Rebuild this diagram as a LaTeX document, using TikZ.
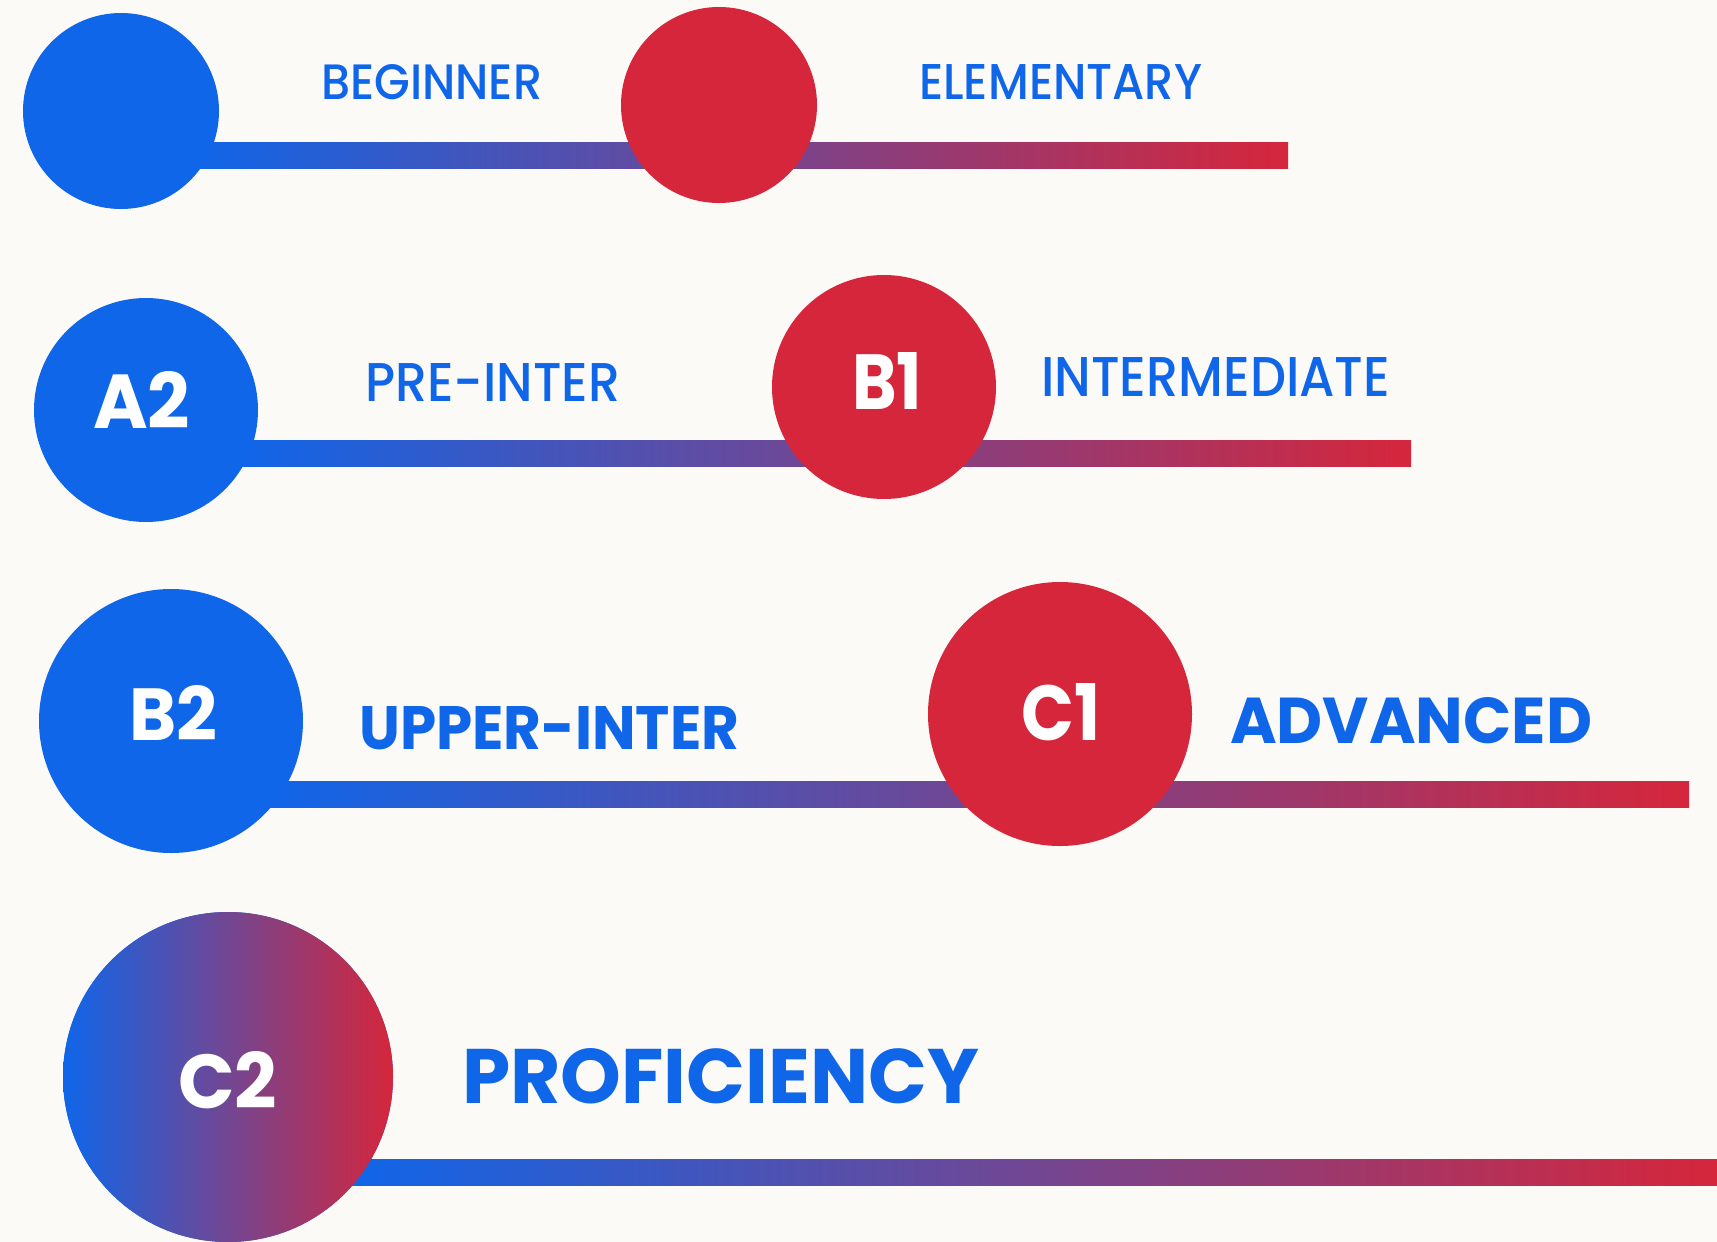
\documentclass[tikz,border=0pt]{standalone}
\usepackage{fontspec}
\IfFontExistsTF{Poppins Medium}{\newfontfamily\lightfont{Poppins Medium}}{\newfontfamily\lightfont{Poppins}[FakeBold=1.2]}
\IfFontExistsTF{Poppins Bold}{\newfontfamily\heavyfont{Poppins Bold}}{\newfontfamily\heavyfont{Poppins}[FakeBold=2]}
\definecolor{cblue}{HTML}{0F66E9}
\definecolor{cred}{HTML}{D5263B}
\definecolor{bgcol}{HTML}{FBFAF7}
\newcommand{\fitlbl}[4]{\resizebox{#1pt}{#2pt}{\fontsize{50}{50}\selectfont #3#4}}
\begin{document}
\begin{tikzpicture}[x=1pt,y=-1pt,
  dot/.style={circle,inner sep=0pt,draw=none},
  bluedot/.style={dot,fill=cblue},
  reddot/.style={dot,fill=cred},
  lab/.style={inner sep=0pt,anchor=base west,text=cblue},
  inlab/.style={inner sep=0pt,anchor=base west,text=white},
  barfill/.style={left color=cblue,right color=cred,draw=none}]
\useasboundingbox (0,0) rectangle (1717,1242);
\fill[bgcol] (0,0) rectangle (1717,1242);

% bars (connectors)
\coordinate (r1s) at (190,142); \coordinate (r1e) at (1288,168);
\coordinate (r2s) at (236,440); \coordinate (r2e) at (1411,466);
\coordinate (r3s) at (266,781); \coordinate (r3e) at (1689,807);
\coordinate (r4s) at (348,1159); \coordinate (r4e) at (1717,1185);
\path[barfill] (r1s) rectangle (r1e);
\path[barfill] (r2s) rectangle (r2e);
\path[barfill] (r3s) rectangle (r3e);
\path[barfill] (r4s) rectangle (r4e);

% circles
\node[bluedot,minimum size=196pt] (c0) at (121,111) {};
\node[reddot,minimum size=196pt] (c1) at (719,105) {};
\node[bluedot,minimum size=224pt] (c2) at (146,410) {};
\node[reddot,minimum size=224pt] (c3) at (884,387) {};
\node[bluedot,minimum size=264pt] (c4) at (171,721) {};
\node[reddot,minimum size=264pt] (c5) at (1060,714) {};
\node[dot,minimum size=330pt,preaction={fill=cblue},left color=cblue,right color=cred] (c6) at (228,1077) {};

% circle labels
\node[inlab] (a2) at (93,428) {\fitlbl{97}{57}{\heavyfont}{A2}};
\node[inlab] (b1) at (852,409) {\fitlbl{70}{57}{\heavyfont}{B1}};
\node[inlab] (b2) at (129,740) {\fitlbl{88}{55}{\heavyfont}{B2}};
\node[inlab] (c1l) at (1021,740) {\fitlbl{79}{57}{\heavyfont}{C1}};
\node[inlab] (c2l) at (178,1108) {\fitlbl{99}{57}{\heavyfont}{C2}};

% level names
\node[lab] (t0) at (321,99) {\fitlbl{221}{35}{\lightfont}{BEGINNER}};
\node[lab] (t1) at (919,99) {\fitlbl{283}{35}{\lightfont}{ELEMENTARY}};
\node[lab] (t2) at (365,401) {\fitlbl{255}{38}{\lightfont}{PRE-INTER}};
\node[lab] (t3) at (1041,396) {\fitlbl{349}{39}{\lightfont}{INTERMEDIATE}};
\node[lab] (t4) at (359,749) {\fitlbl{380}{43}{\heavyfont}{UPPER-INTER}};
\node[lab] (t5) at (1230,743) {\fitlbl{362}{46}{\heavyfont}{ADVANCED}};
\node[lab] (t6) at (462,1103) {\fitlbl{517}{55}{\heavyfont}{PROFICIENCY}};
\end{tikzpicture}
\end{document}
